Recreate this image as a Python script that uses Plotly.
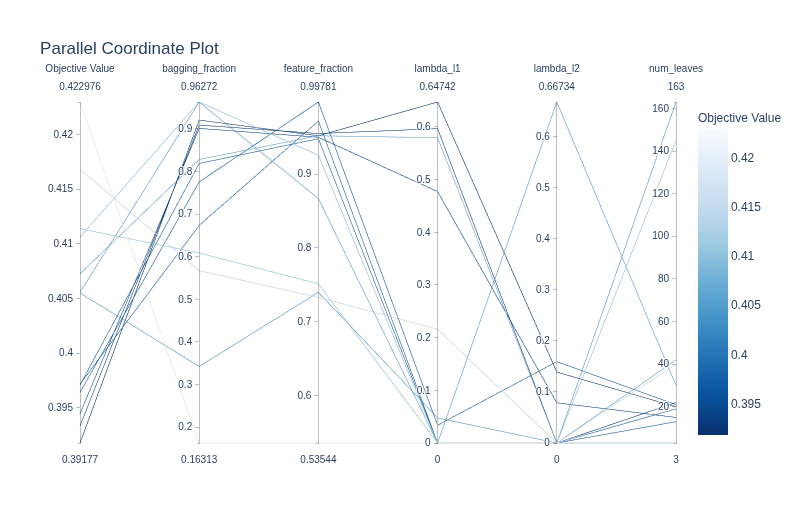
import plotly.graph_objects as go

objective = [0.422976, 0.41683, 0.41138, 0.41061, 0.40725, 0.40556, 0.40550,
             0.39177, 0.39333, 0.39445, 0.39639, 0.39707, 0.39716]
bagging_fraction = [0.16313, 0.5671, 0.6087, 0.96272, 0.8280, 0.96272, 0.3426,
                    0.9204, 0.9086, 0.9008, 0.7753, 0.8186, 0.6734]
feature_fraction = [0.53544, 0.733, 0.7512, 0.9257, 0.952, 0.8669, 0.7398,
                    0.952, 0.955, 0.950, 0.99781, 0.948, 0.97197]
lambda_l1 = [0.0, 0.2159, 0.0, 0.0, 0.5796, 0.0, 0.0476,
             0.64742, 0.5968, 0.4774, 0.0337, 0.0, 0.0]
lambda_l2 = [0.0, 0.0, 0.0, 0.0, 0.0, 0.66734, 0.0,
             0.1388, 0.0, 0.0787, 0.1592, 0.0, 0.0]
num_leaves = [20, 40, 145, 3, 42, 30, 163,
              20, 22, 15, 21, 19, 13]

def rng(v):
    return [min(v), max(v)]

dims = [
    dict(label="Objective Value", values=objective, range=rng(objective)),
    dict(label="bagging_fraction", values=bagging_fraction, range=rng(bagging_fraction)),
    dict(label="feature_fraction", values=feature_fraction, range=rng(feature_fraction)),
    dict(label="lambda_l1", values=lambda_l1, range=rng(lambda_l1)),
    dict(label="lambda_l2", values=lambda_l2, range=rng(lambda_l2)),
    dict(label="num_leaves", values=num_leaves, range=rng(num_leaves)),
]

fig = go.Figure(go.Parcoords(
    dimensions=dims,
    line=dict(
        color=objective,
        colorscale="blues",
        reversescale=True,
        showscale=True,
        colorbar=dict(title=dict(text="Objective Value", font=dict(size=12))),
    ),
))
fig.update_layout(
    title=dict(text="Parallel Coordinate Plot", x=0.04),
    font=dict(family="Arial, Liberation Sans, sans-serif"),
    width=803, height=525,
    margin=dict(l=72, r=135, t=92, b=88, autoexpand=False),
    template="plotly",
)
fig.write_html("out.html")
